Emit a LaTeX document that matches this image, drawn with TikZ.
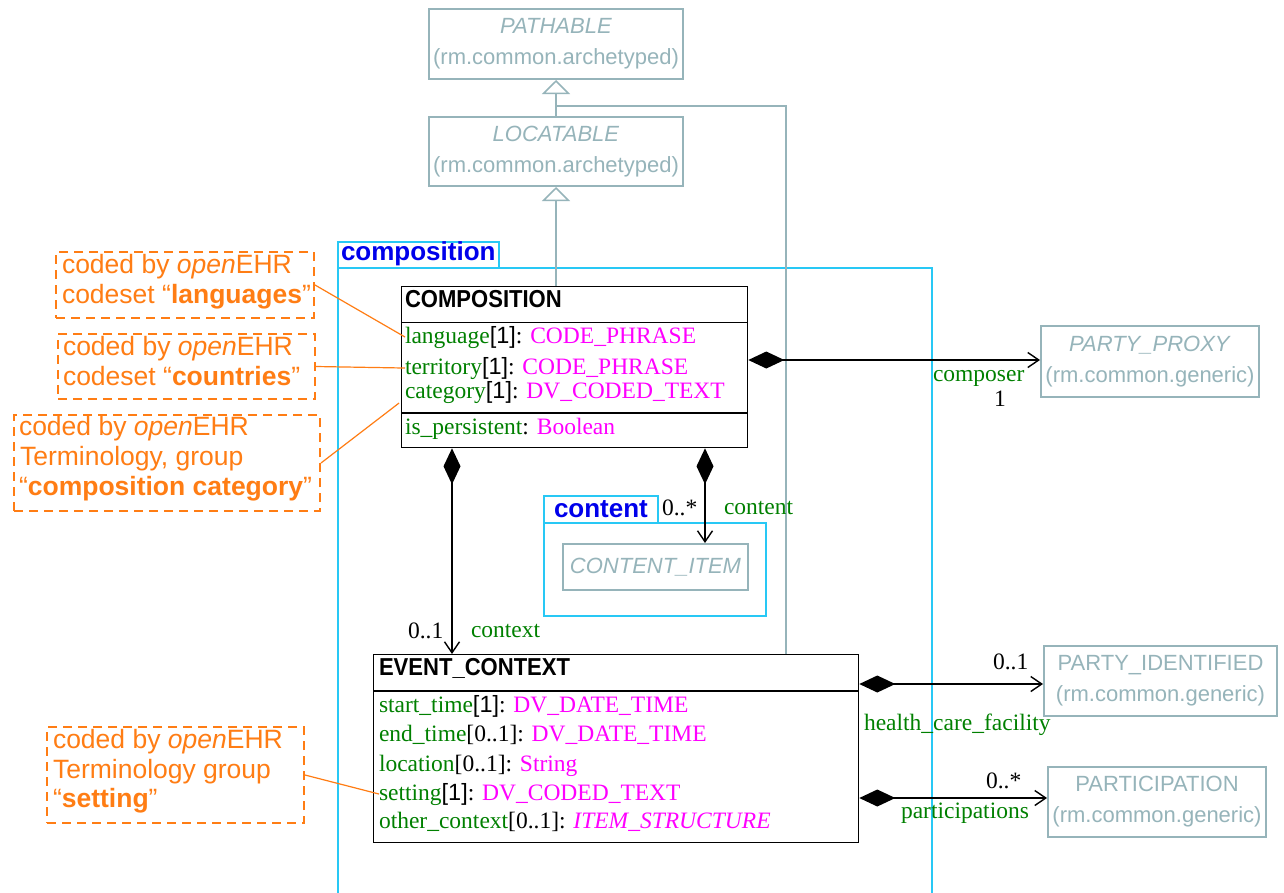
\documentclass[tikz,border=0pt]{standalone}
\usepackage{fontspec}
\setmainfont{Liberation Serif}
\setsansfont{Liberation Sans}
\newfontfamily\hdrfont[FakeStretch=0.9]{Liberation Sans}
\usetikzlibrary{arrows.meta}
\definecolor{grayc}{RGB}{150,180,186}
\definecolor{cyanc}{RGB}{40,200,245}
\definecolor{bluec}{RGB}{0,0,235}
\definecolor{greenc}{RGB}{0,128,0}
\definecolor{magc}{RGB}{255,0,255}
\definecolor{orangec}{RGB}{255,125,20}
\newcommand{\an}[1]{\textcolor{greenc}{#1}}
\newcommand{\ty}[1]{\textcolor{magc}{#1}}
\newcommand{\onemult}{{\sffamily[1]}}
\begin{document}
\begin{tikzpicture}[x=1pt,y=-1pt,
 txt/.style={inner sep=0pt,outer sep=0pt,anchor=base west},
 attr/.style={txt,font=\fontsize{23.5}{28}\selectfont},
 lbl/.style={txt,font=\fontsize{23.5}{28}\selectfont,text=greenc},
 mult/.style={txt,font=\fontsize{23.5}{28}\selectfont},
 hdr/.style={txt,font=\hdrfont\bfseries\fontsize{24.5}{28}\selectfont},
 gbox/.style={draw=grayc,line width=2pt,text=grayc,align=center,inner sep=0pt,font=\sffamily\fontsize{22}{31}\selectfont},
 cls/.style={draw=black,line width=1.3pt,fill=white,anchor=north west,inner sep=0pt},
 clsline/.style={draw=black,line width=1.3pt},
 pkg/.style={draw=cyanc,line width=2.2pt,anchor=north west,inner sep=0pt},
 pkglbl/.style={txt,font=\sffamily\bfseries\fontsize{26}{30}\selectfont,text=bluec},
 note/.style={draw=orangec,line width=2pt,dash pattern=on 9pt off 6pt,anchor=north west,inner sep=0pt},
 notetxt/.style={txt,text=orangec,font=\sffamily\fontsize{26.5}{30}\selectfont},
 notelink/.style={draw=orangec,line width=1.2pt},
 inh/.style={draw=grayc,line width=2pt,-{Triangle[open,width=28pt,length=14pt,line width=1.5pt]}},
 gline/.style={draw=grayc,line width=2pt},
 compo/.style={draw=black,line width=2pt,{Diamond[width=17pt,length=36pt]}-{Straight Barb[length=11pt,width=15pt,line width=1.4pt]}},
]
\useasboundingbox (0,0) rectangle (1284,892);
\fill[white] (0,0) rectangle (1284,892);

% packages
\node[pkg,minimum width=594pt,minimum height=632pt] (cpkg) at (337,267) {};
\node[pkg,minimum width=161pt,minimum height=26pt] (ctab) at (337,241) {};
\node[pkglbl] (ctablbl) at (341,260) {composition};
\node[pkg,minimum width=222pt,minimum height=93pt] (kpkg) at (543,522) {};
\node[pkg,minimum width=114pt,minimum height=27pt] (ktab) at (543,495) {};
\node[pkglbl] (ktablbl) at (554,517) {content};

% gray classes
\node[gbox,minimum width=254pt,minimum height=70pt] (pathable) at (556,44) {\textit{PATHABLE}\\(rm.common.archetyped)};
\node[gbox,minimum width=254pt,minimum height=69pt] (locatable) at (556,151.5) {\textit{LOCATABLE}\\(rm.common.archetyped)};
\node[gbox,minimum width=218pt,minimum height=71pt] (proxy) at (1150,361.5) {\textit{PARTY\_PROXY}\\(rm.common.generic)};
\node[gbox,minimum width=233pt,minimum height=70pt] (ident) at (1160.5,681) {PARTY\_IDENTIFIED\\(rm.common.generic)};
\node[gbox,minimum width=218pt,minimum height=70pt] (partic) at (1157,802) {PARTICIPATION\\(rm.common.generic)};
\node[gbox,minimum width=185pt,minimum height=46pt] (citem) at (655.5,567) {\textit{CONTENT\_ITEM}};

% inheritance
\coordinate (bend) at (786,106);
\coordinate (branch) at (556,106);
\draw[inh] (locatable.north) -- (pathable.south);

% COMPOSITION class
\node[cls,minimum width=346pt,minimum height=161pt] (comp) at (401,286) {};
\draw[clsline] (comp.west |- 0,322.7) -- (comp.east |- 0,322.7);
\draw[clsline] (comp.west |- 0,413) -- (comp.east |- 0,413);
\node[hdr] (comphdr) at (405,307) {COMPOSITION};
\node[attr] (lang) at (405,343) {\an{language}\onemult: \ty{CODE\_PHRASE}};
\node[attr] (terr) at (405,374) {\an{territory}\onemult: \ty{CODE\_PHRASE}};
\node[attr] (cat) at (405,398) {\an{category}\onemult: \ty{DV\_CODED\_TEXT}};
\node[attr] (pers) at (405,434) {\an{is\_persistent}: \ty{Boolean}};

% EVENT_CONTEXT class
\node[cls,minimum width=485pt,minimum height=188pt] (ev) at (373,654) {};
\draw[clsline] (ev.west |- 0,691) -- (ev.east |- 0,691);
\node[hdr] (evhdr) at (379,675) {EVENT\_CONTEXT};
\node[attr] (start) at (379,712) {\an{start\_time}\onemult: \ty{DV\_DATE\_TIME}};
\node[attr] (endt) at (379,741) {\an{end\_time}[0..1]: \ty{DV\_DATE\_TIME}};
\node[attr] (loc) at (379,771) {\an{location}[0..1]: \ty{String}};
\node[attr] (setting) at (379,800) {\an{setting}\onemult: \ty{DV\_CODED\_TEXT}};
\node[attr] (other) at (379,828) {\an{other\_context}[0..1]: \ty{\textit{ITEM\_STRUCTURE}}};

\draw[gline] (ev.north -| bend) -- (bend) -- (branch);
\draw[inh] (comp.north -| locatable.south) -- (locatable.south);

% associations
\draw[compo] (comp.east |- 0,360) -- (proxy.west |- 0,360);
\node[lbl] (composerlbl) at (933,381) {composer};
\node[mult] (m1) at (994,406) {1};

\draw[compo] (comp.south -| 452,0) -- (ev.north -| 452,0);
\node[mult] (m2) at (408,638) {0..1};
\node[lbl] (contextlbl) at (471,637) {context};

\draw[compo] (comp.south -| 705,0) -- (citem.north -| 705,0);
\node[mult] (m3) at (662,515) {0..*};
\node[lbl] (contentlbl) at (724,514) {content};

\draw[compo] (ev.east |- 0,684) -- (ident.west |- 0,684);
\node[mult] (m4) at (993,669) {0..1};
\node[lbl] (hcflbl) at (864,730) {health\_care\_facility};

\draw[compo] (ev.east |- 0,798) -- (partic.west |- 0,798);
\node[mult] (m5) at (986,788) {0..*};
\node[lbl] (partlbl) at (901,818) {participations};

% notes
\node[note,minimum width=258pt,minimum height=66pt] (n1) at (55,251) {};
\node[notetxt] (n1a) at (62,273) {coded by \emph{open}EHR};
\node[notetxt] (n1b) at (62,303) {codeset “\textbf{languages}”};
\node[note,minimum width=257pt,minimum height=65pt] (n2) at (57,333) {};
\node[notetxt] (n2a) at (63,355) {coded by \emph{open}EHR};
\node[notetxt] (n2b) at (63,385) {codeset “\textbf{countries}”};
\node[note,minimum width=306pt,minimum height=96pt] (n3) at (13,414) {};
\node[notetxt] (n3a) at (19,435) {coded by \emph{open}EHR};
\node[notetxt] (n3b) at (20,465) {Terminology, group};
\node[notetxt] (n3c) at (19,495) {“\textbf{composition category}”};
\node[note,minimum width=257pt,minimum height=96pt] (n4) at (46,726) {};
\node[notetxt] (n4a) at (53,748) {coded by \emph{open}EHR};
\node[notetxt] (n4b) at (53,778) {Terminology group};
\node[notetxt] (n4c) at (53,807) {“\textbf{setting}”};

\draw[notelink] (n1.east) -- (lang.west);
\draw[notelink] (n2.east) -- (terr.west);
\draw[notelink] (n3.east) -- ([xshift=-6pt]cat.south west);
\draw[notelink] (n4.east) -- (setting.west);
\end{tikzpicture}
\end{document}
